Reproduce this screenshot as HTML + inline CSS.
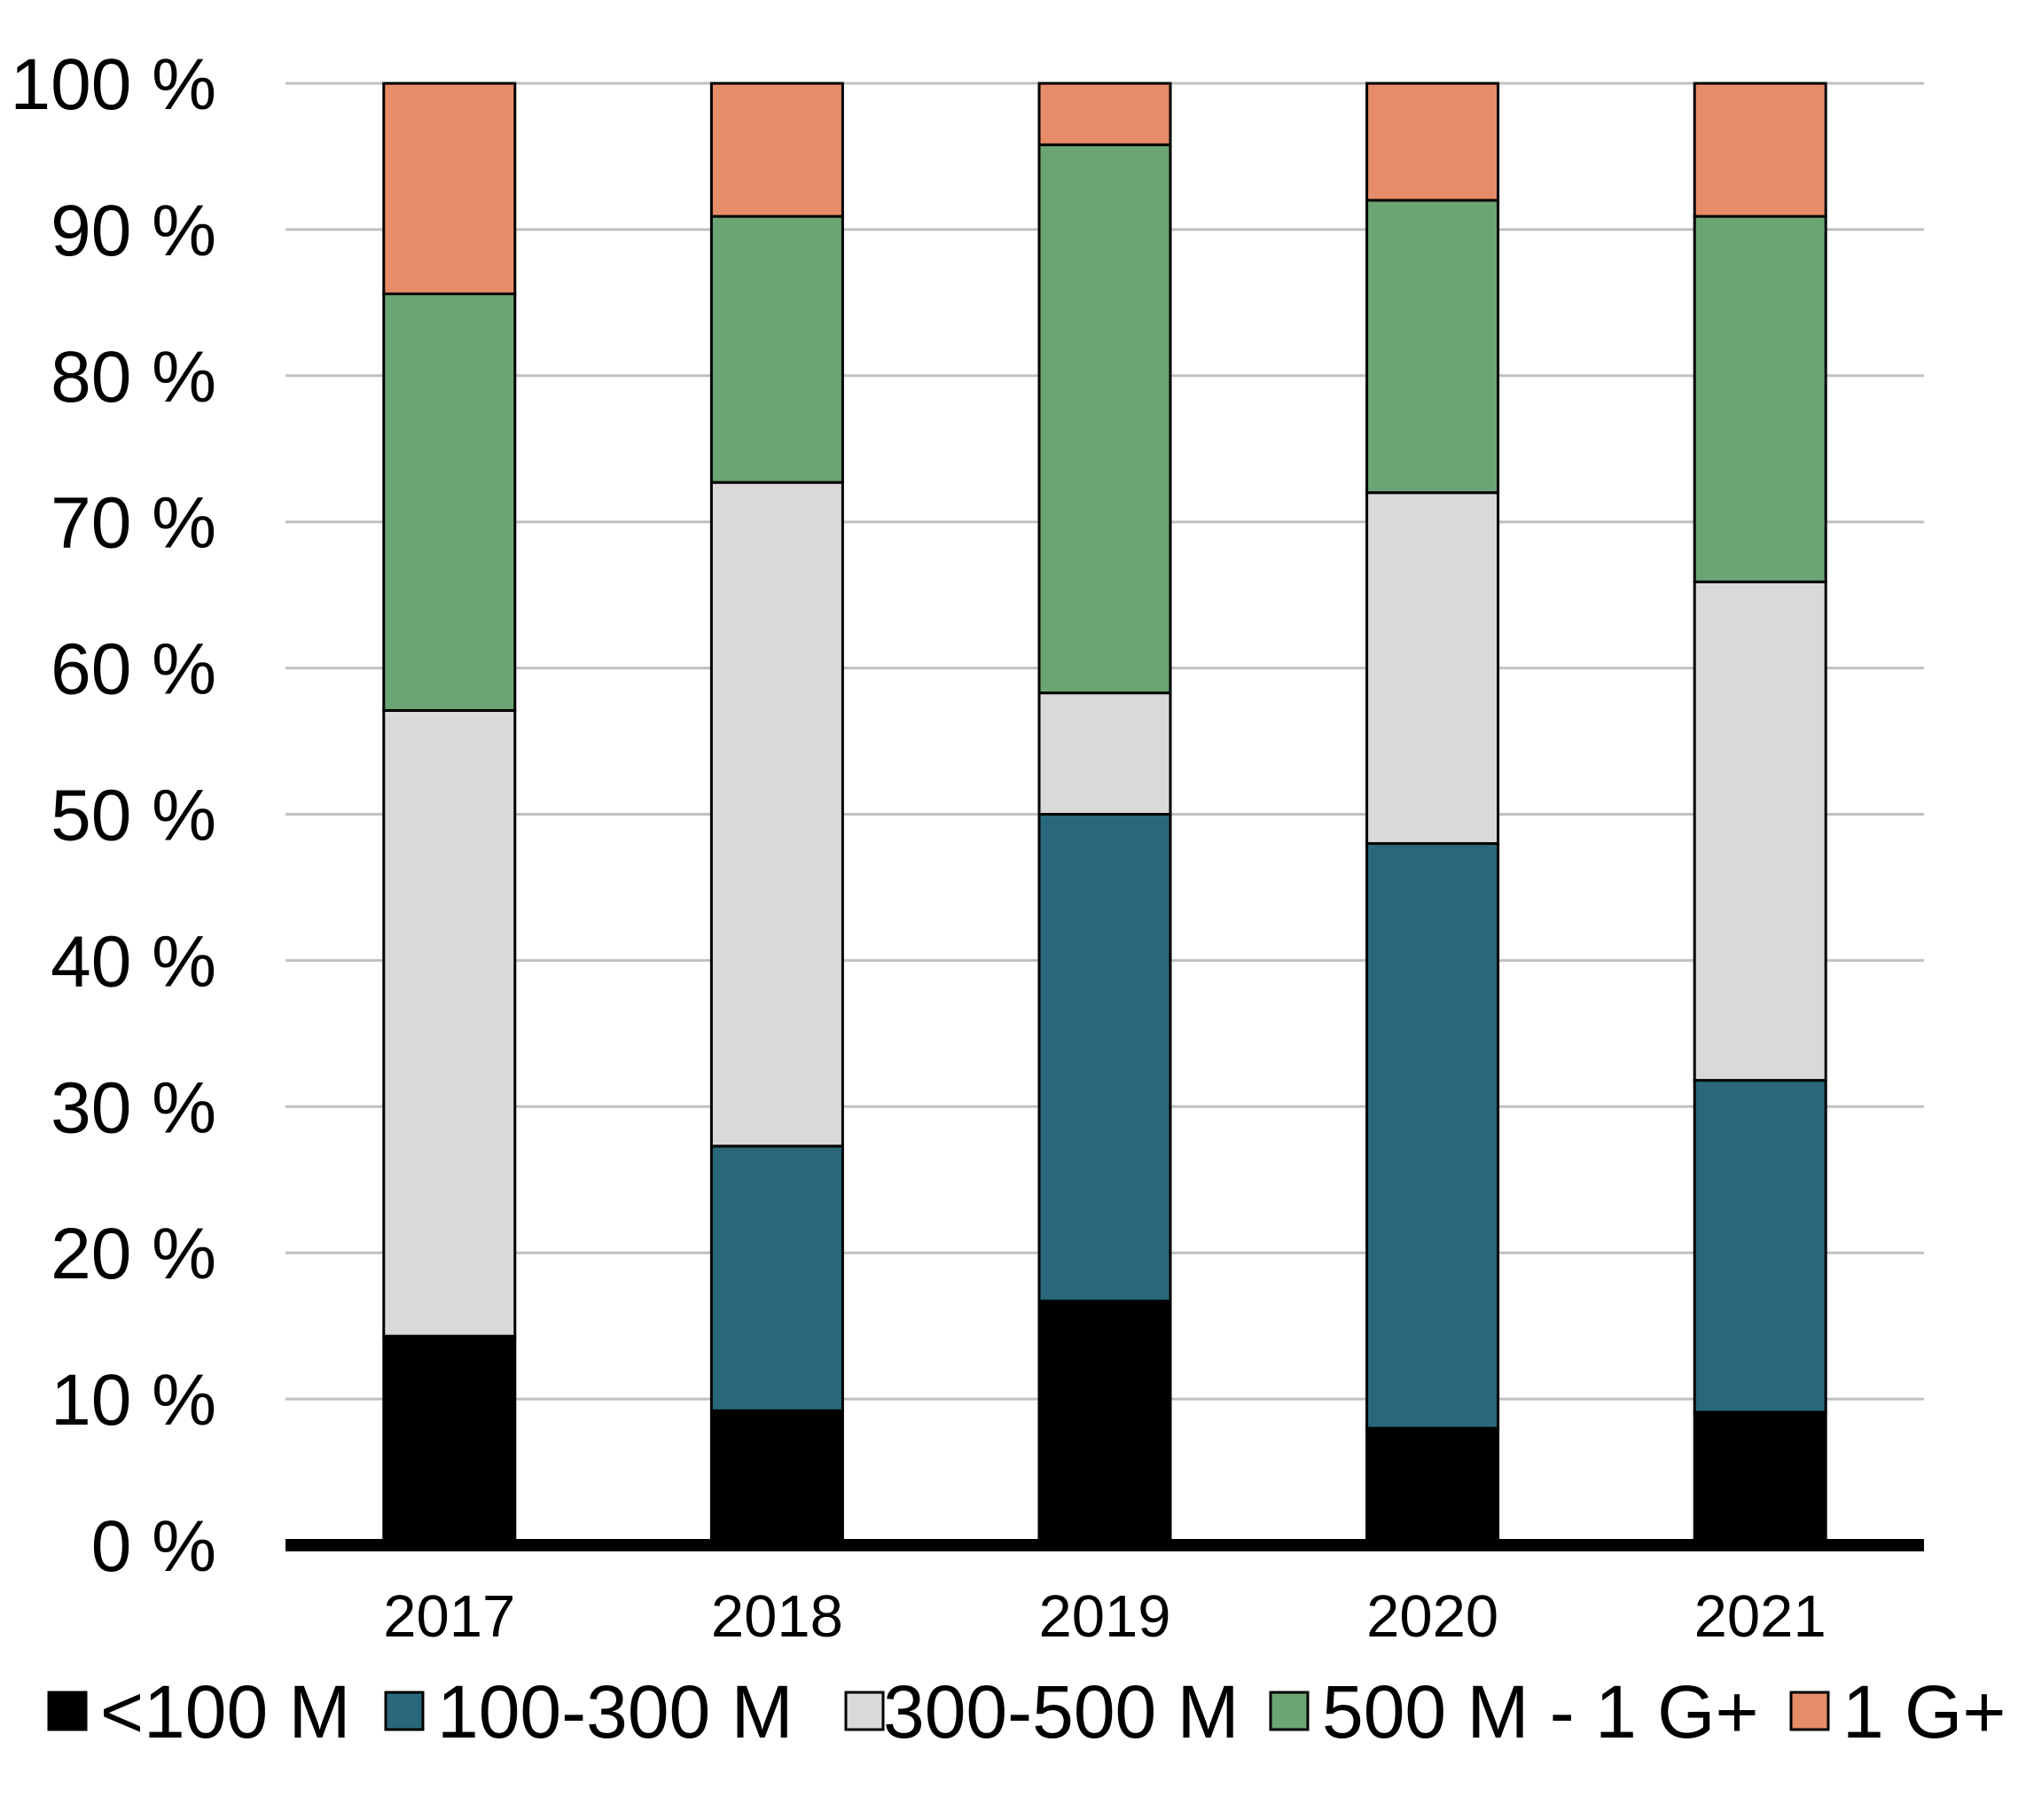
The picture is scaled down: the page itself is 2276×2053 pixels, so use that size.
<!DOCTYPE html>
<html><head><meta charset="utf-8"><style>
html,body{margin:0;padding:0;background:#fff;}
svg{display:block;font-family:"Liberation Sans",Arial,sans-serif;}
</style></head><body>
<svg id="chart" width="2276" height="2053" viewBox="0 0 2276 2053" xmlns="http://www.w3.org/2000/svg">
<g id="grid"></g><g id="bars"></g><g id="axes"></g><g id="legend"></g>
</svg>
<script>
const categories = ["2017","2018","2019","2020","2021"];
const seriesNames = ["<100 M","100-300 M","300-500 M","500 M - 1 G+","1 G+"];
const seriesColors = ["#000000","#29687a","#d9d9d9","#6ba574","#e68c68"];
const sLt100 = [14.3, 9.2, 16.7, 8.0, 9.1];
const s100_300 = [0, 18.1, 33.3, 40.0, 22.7];
const s300_500 = [42.8, 45.4, 8.3, 24.0, 34.1];
const s500_1G = [28.5, 18.2, 37.5, 20.0, 25.0];
const s1G = [14.4, 9.1, 4.2, 8.0, 9.1];
const series = [sLt100, s100_300, s300_500, s500_1G, s1G];
const yTicks = [0,10,20,30,40,50,60,70,80,90,100];
const yTickLabels = ["0 %","10 %","20 %","30 %","40 %","50 %","60 %","70 %","80 %","90 %","100 %"];

const NS="http://www.w3.org/2000/svg";
const X0=322, X1=2170, Y0=1743, Y100=94;
const y = v => Y0 - (v/100)*(Y0-Y100);
const band = (X1-X0)/categories.length;
const xc = i => X0 + band*(i+0.5);
const BW = 148;
function mk(tag, attrs, parent){const e=document.createElementNS(NS,tag);for(const k in attrs)e.setAttribute(k,attrs[k]);parent.appendChild(e);return e;}
const grid=document.getElementById('grid'), bars=document.getElementById('bars'), axes=document.getElementById('axes'), legend=document.getElementById('legend');

yTicks.forEach((t,i)=>{
  if(t>0){const l=mk('line',{x1:X0,x2:X1,y1:y(t),y2:y(t),stroke:'#c0c0c0','stroke-width':3},grid);
  
  }
  const tx=mk('text',{x:244,y:y(t)+29,'text-anchor':'end','font-size':82,fill:'#000'},axes);
  tx.textContent=yTickLabels[i];
  
  
});

categories.forEach((c,i)=>{
  let cum=0;
  series.forEach((s,k)=>{
    const v=s[i]; if(v<=0){return;}
    const r=mk('rect',{x:xc(i)-BW/2,y:y(cum+v),width:BW,height:y(cum)-y(cum+v),fill:seriesColors[k],stroke:'#000','stroke-width':3},bars);
    
    
    cum+=v;
  });
  const tx=mk('text',{x:xc(i),y:1846,'text-anchor':'middle','font-size':67,fill:'#000'},axes);
  tx.textContent=c;
  
  
});
const ax=mk('line',{x1:X0,x2:X1,y1:Y0,y2:Y0,stroke:'#000','stroke-width':14},axes);



const legX=[55,435,954,1433,2020];
const legOff=[58,58,42,58,58];
seriesNames.forEach((n,k)=>{
  const g=mk('g',{},legend);
  
  
  mk('rect',{x:legX[k],y:1909,width:42,height:42,fill:seriesColors[k],stroke:'#000','stroke-width':3},g);
  const t=mk('text',{x:legX[k]+legOff[k],y:1960,'font-size':84,fill:'#000'},g);
  t.textContent=n;
});
</script>
</body></html>
